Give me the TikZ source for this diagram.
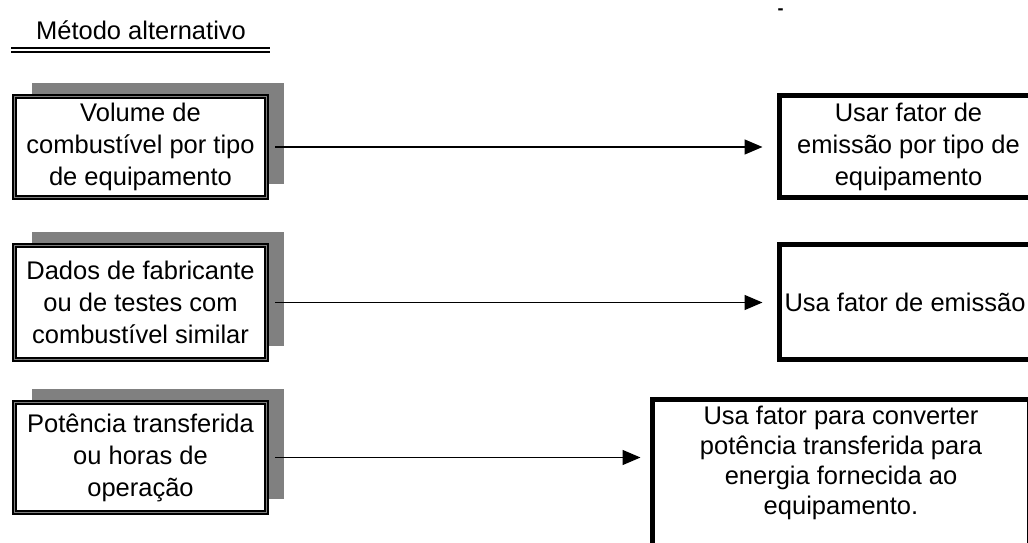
\documentclass[tikz,border=0pt]{standalone}
\usepackage{fontspec}
\setmainfont{Liberation Sans}
\usetikzlibrary{arrows.meta, positioning, shadows}
\definecolor{shadowgray}{RGB}{128,128,128}

\begin{document}
\begin{tikzpicture}[
   x = 1pt, y = -1pt,
   font = \fontsize{25.5}{32}\selectfont,
   source/.style = {draw, line width=2pt, double=shadowgray, double distance=1pt,
                    fill=white, minimum width=252pt, align=center, inner sep=0pt,
                    drop shadow={shadow xshift=17pt, shadow yshift=14pt, fill=shadowgray, opacity=1}},
   target/.style = {draw, line width=5pt, fill=white, align=center, inner sep=0pt},
   flow/.style = {line width=1.5pt, -{Triangle[length=18pt, width=15pt]}}]
   \useasboundingbox (0,0) rectangle (1028,543);
   \clip (0,0) rectangle (1028,543);

   \node (title) at (141,30) {Método alternativo};
   \draw[double, line width=2pt, double distance=2pt] (11,50) -- (270,50);
   \node[font=\fontsize{18}{18}\selectfont\bfseries] (mark) at (780.5,12) {-};

   % dados de entrada
   \node[source, minimum height=101pt] (v1) at (140.5,147)
      {Volume de\\combustível por tipo\\de equipamento};
   \node[source, minimum height=114pt] (v2) at (140.5,302.5)
      {Dados de fabricante\\ou de testes com\\combustível similar};
   \node[source, minimum height=110pt] (v3) at (140.5,457.5)
      {Potência transferida\\ou horas de\\operação};

   % fatores
   \node[target, minimum width=258pt, minimum height=102pt] (u1) at (908.5,146.5)
      {Usar fator de\\emissão por tipo de\\equipamento};
   \node[target, minimum width=251pt, minimum height=115pt] (u2) at (905,302)
      {Usa fator de emissão};
   \node[target, minimum width=377pt, minimum height=158pt, text depth=36pt,
         font=\fontsize{25.5}{30}\selectfont] (u3) at (841,478.5)
      {Usa fator para converter\\potência transferida para\\energia fornecida ao\\equipamento.};

   \draw[flow] ([xshift=7.5pt]v1.east) -- ([xshift=-14.5pt]v1.east -| u1.west);
   \draw[flow] ([xshift=7.5pt]v2.east) -- ([xshift=-14.5pt]v2.east -| u2.west);
   \draw[flow] ([xshift=7.5pt]v3.east) -- ([xshift=-9.5pt]v3.east -| u3.west);
\end{tikzpicture}
\end{document}
